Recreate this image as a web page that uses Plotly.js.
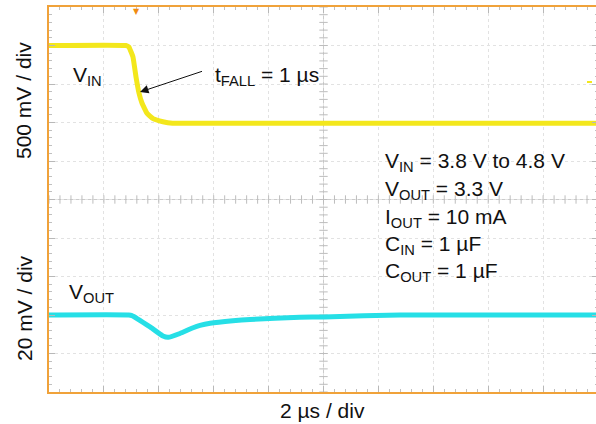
<!DOCTYPE html>
<html>
<head>
<meta charset="utf-8">
<script src="https://cdn.plot.ly/plotly-3.0.1.min.js"></script>
<style>
html,body{margin:0;padding:0;overflow:hidden;background:#fff;}
#chart{width:600px;height:424px;}
</style>
</head>
<body>
<div id="chart"></div>
<script>
// ---- data (time in µs) ----
const vinTimeUs = [0, 2.80, 2.91, 3.06, 3.17, 3.28, 3.39, 3.57, 3.79, 4.15, 4.50, 20];
const vinVolts  = [4.80, 4.80, 4.78, 4.65, 4.39, 4.18, 4.05, 3.92, 3.85, 3.81, 3.79, 3.79];

const voutTimeUs = [0, 2.90, 3.02, 3.68, 4.15, 4.34, 4.77, 5.25, 5.50, 5.87, 6.70, 7.32, 9.14, 10.02, 12.79, 20];
const voutDevMv  = [0, 0, -0.3, -6.2, -10.9, -11.6, -9.6, -6.6, -5.4, -4.3, -3.0, -2.3, -1.2, -1.0, 0, 0];

const triggerTimeUs = 3.17;

const labelVin = 'V<sub>IN</sub>';
const labelVout = 'V<sub>OUT</sub>';
const labelFall = 't<sub>FALL</sub> = 1 µs';
const conditionLines = [
  'V<sub>IN</sub> = 3.8 V to 4.8 V',
  'V<sub>OUT</sub> = 3.3 V',
  'I<sub>OUT</sub> = 10 mA',
  'C<sub>IN</sub> = 1 µF',
  'C<sub>OUT</sub> = 1 µF'
];
const xTitle = '2 µs / div';
const yTitleTop = '500 mV / div';
const yTitleBottom = '20 mV / div';

// ---- scope scales ----
const timeRange = [0, 20];      // 10 div x 2 µs
const vinRange = [0.3, 5.3];    // 10 div x 500 mV
const voutRange = [-40, 160];   // 10 div x 20 mV

const FONT = 'Liberation Sans, Arial, Helvetica, sans-serif';
const px2x = p => (p - 49) / 549;
const px2y = p => (392 - p) / 385;

// centre graticule cross ticks (decoration)
const midT = (timeRange[0] + timeRange[1]) / 2;
const midV = (vinRange[0] + vinRange[1]) / 2;
const hTickX = [], hTickY = [], vTickX = [], vTickY = [];
for (let i = 0; i <= 50; i++) { hTickX.push(timeRange[0] + i * 0.4); hTickY.push(midV); }
for (let i = 0; i <= 50; i++) { vTickY.push(vinRange[0] + i * 0.1); vTickX.push(midT); }

const traces = [
  {x: hTickX, y: hTickY, mode: 'markers', type: 'scatter', hoverinfo: 'skip',
   marker: {symbol: 'line-ns', size: 6, line: {color: '#bdbdbd', width: 1}}},
  {x: vTickX, y: vTickY, mode: 'markers', type: 'scatter', hoverinfo: 'skip',
   marker: {symbol: 'line-ew', size: 6, line: {color: '#bdbdbd', width: 1}}},
  {x: vinTimeUs, y: vinVolts, mode: 'lines', type: 'scatter', yaxis: 'y',
   line: {color: '#f3e71c', width: 5, shape: 'spline', smoothing: 0.3}},
  {x: voutTimeUs, y: voutDevMv, mode: 'lines', type: 'scatter', yaxis: 'y2',
   line: {color: '#26dfe6', width: 5, shape: 'spline', smoothing: 0.5}}
];

const axisCommon = {
  showgrid: true, gridcolor: '#e2e2e2', griddash: 'dot', gridwidth: 1,
  zeroline: false, showline: true, linecolor: '#f0a23a', linewidth: 2,
  mirror: 'ticks', ticks: 'inside', ticklen: 6, tickcolor: '#b8b8b8', tickwidth: 1,
  showticklabels: false, fixedrange: true
};

const annFont = {family: FONT, size: 21, color: '#111'};
const titleFont = {family: FONT, size: 21, color: '#111'};
const annotations = [
  {text: labelVin, xref: 'paper', yref: 'paper', x: px2x(71), y: px2y(76), xanchor: 'left', yanchor: 'middle', showarrow: false, font: annFont},
  {text: labelVout, xref: 'paper', yref: 'paper', x: px2x(67), y: px2y(293), xanchor: 'left', yanchor: 'middle', showarrow: false, font: annFont},
  {text: labelFall, xref: 'paper', yref: 'paper', x: px2x(213), y: px2y(76), xanchor: 'left', yanchor: 'middle', showarrow: false, font: annFont},
  {text: ' ', xref: 'paper', yref: 'paper', x: px2x(140), y: px2y(92), ax: 66, ay: -22,
   showarrow: true, arrowhead: 2, arrowsize: 1.7, arrowwidth: 1, arrowcolor: '#111'},
  {text: xTitle, xref: 'paper', yref: 'paper', x: px2x(322), y: px2y(411), xanchor: 'center', yanchor: 'middle', showarrow: false, font: titleFont},
  {text: yTitleTop, xref: 'paper', yref: 'paper', x: px2x(24), y: px2y(101), xanchor: 'center', yanchor: 'middle', textangle: -90, showarrow: false, font: titleFont},
  {text: yTitleBottom, xref: 'paper', yref: 'paper', x: px2x(24), y: px2y(308), xanchor: 'center', yanchor: 'middle', textangle: -90, showarrow: false, font: titleFont},
  {text: '▼', xref: 'x', yref: 'paper', x: triggerTimeUs, y: 1, xanchor: 'center', yanchor: 'top', yshift: 2, showarrow: false, font: {family: 'DejaVu Sans', size: 8, color: '#f08c10'}}
];
const lineCenters = [162, 190, 218, 245, 272];
conditionLines.forEach((t, i) => {
  annotations.push({text: t, xref: 'paper', yref: 'paper', x: px2x(383), y: px2y(lineCenters[i]),
    xanchor: 'left', yanchor: 'middle', showarrow: false, font: annFont});
});

const layout = {
  width: 600, height: 424,
  margin: {l: 49, r: 2, t: 7, b: 32, pad: 0},
  paper_bgcolor: '#ffffff', plot_bgcolor: '#ffffff',
  showlegend: false, hovermode: false,
  font: {family: FONT, size: 19, color: '#111'},
  xaxis: Object.assign({}, axisCommon, {range: timeRange, tick0: 0, dtick: 2,
    minor: {dtick: 0.4, ticks: 'inside', ticklen: 3, tickcolor: '#c0c0c0', showgrid: false}}),
  yaxis: Object.assign({}, axisCommon, {range: vinRange, tick0: 0.3, dtick: 0.5,
    minor: {dtick: 0.1, ticks: 'inside', ticklen: 3, tickcolor: '#c0c0c0', showgrid: false}}),
  yaxis2: {overlaying: 'y', range: voutRange, visible: false, fixedrange: true},
  shapes: [
    {type: 'line', xref: 'x', yref: 'y', x0: timeRange[0], x1: timeRange[1], y0: midV, y1: midV, line: {color: '#cbcbcb', width: 1}, layer: 'below'},
    {type: 'line', xref: 'x', yref: 'y', x0: midT, x1: midT, y0: vinRange[0], y1: vinRange[1], line: {color: '#cbcbcb', width: 1}, layer: 'below'},
    {type: 'line', xref: 'paper', yref: 'paper', x0: px2x(587), x1: px2x(592), y0: px2y(82), y1: px2y(82), line: {color: '#f3e71c', width: 2}}
  ],
  annotations: annotations
};

Plotly.newPlot('chart', traces, layout, {staticPlot: true, displayModeBar: false});
</script>
</body>
</html>
